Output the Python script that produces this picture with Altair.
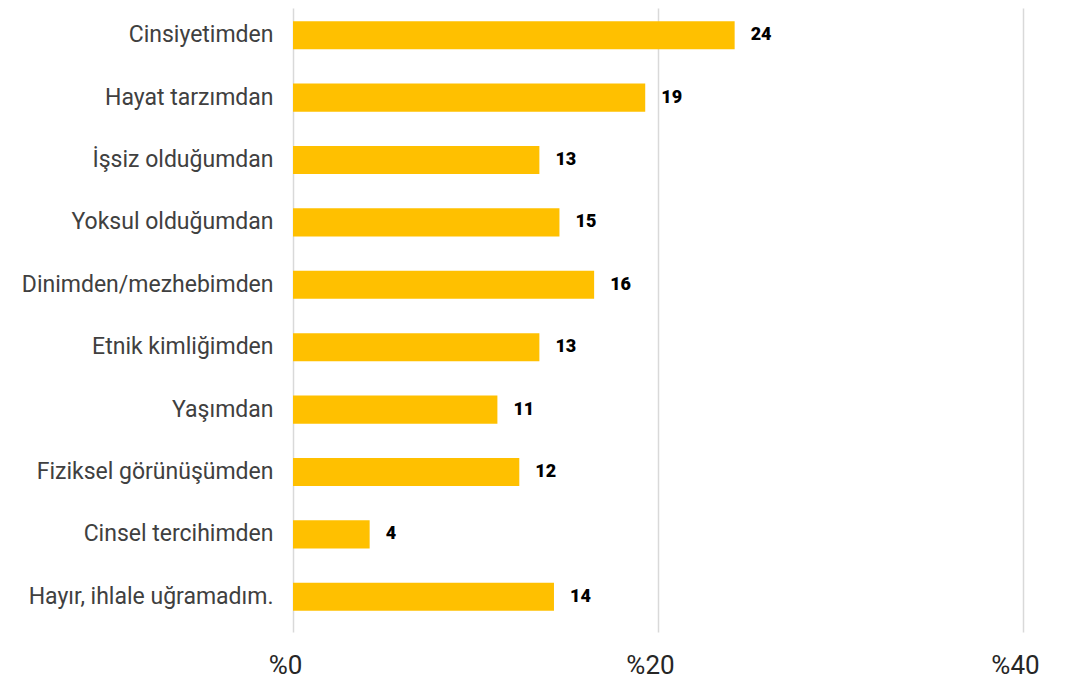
import altair as alt
import pandas as pd

categories = [
    "Cinsiyetimden",
    "Hayat tarzımdan",
    "İşsiz olduğumdan",
    "Yoksul olduğumdan",
    "Dinimden/mezhebimden",
    "Etnik kimliğimden",
    "Yaşımdan",
    "Fiziksel görünüşümden",
    "Cinsel tercihimden",
    "Hayır, ihlale uğramadım.",
]
values = [24.2, 19.3, 13.5, 14.6, 16.5, 13.5, 11.2, 12.4, 4.2, 14.3]
labels = ["24", "19", "13", "15", "16", "13", "11", "12", "4", "14"]

df = pd.DataFrame({"cat": categories, "val": values, "lab": labels})

yscale = alt.Scale(paddingInner=0.55, paddingOuter=0.275, range=[-4, 620])
xscale = alt.Scale(domain=[0, 40], nice=False)

y = alt.Y(
    "cat:N",
    sort=categories,
    title=None,
    scale=yscale,
    axis=alt.Axis(
        domain=False,
        ticks=False,
        labelFont="Roboto",
        labelFontSize=23,
        labelColor="#404040",
        labelPadding=20,
        labelLimit=300,
    ),
)

x = alt.X(
    "val:Q",
    title=None,
    scale=xscale,
    axis=alt.Axis(
        values=[0, 20, 40],
        labelExpr="'%' + datum.value",
        labelFlush=False,
        labelOffset=-8,
        domain=False,
        ticks=False,
        grid=True,
        gridColor="#D9D9D9",
        gridWidth=1.5,
        labelFont="Roboto",
        labelFontSize=26,
        labelColor="#262626",
        labelPadding=24,
    ),
)

bars = alt.Chart(df).mark_bar(color="#FFC000").encode(x=x, y=y)

text = alt.Chart(df).mark_text(
    align="left",
    baseline="middle",
    dx=16,
    font="Roboto",
    fontSize=18,
    fontWeight=900,
    color="#000000",
).encode(x=x, y=y, text="lab:N")

chart = (
    alt.layer(bars, text)
    .properties(
        width=730,
        height=620,
        autosize=alt.AutoSizeParams(type="none"),
        padding={"left": 285, "top": 0, "right": 40, "bottom": 51},
        background="#FFFFFF",
    )
    .configure_view(stroke=None, strokeWidth=0)
)

chart.save("out.html", embed_options={"renderer": "svg", "actions": False})
